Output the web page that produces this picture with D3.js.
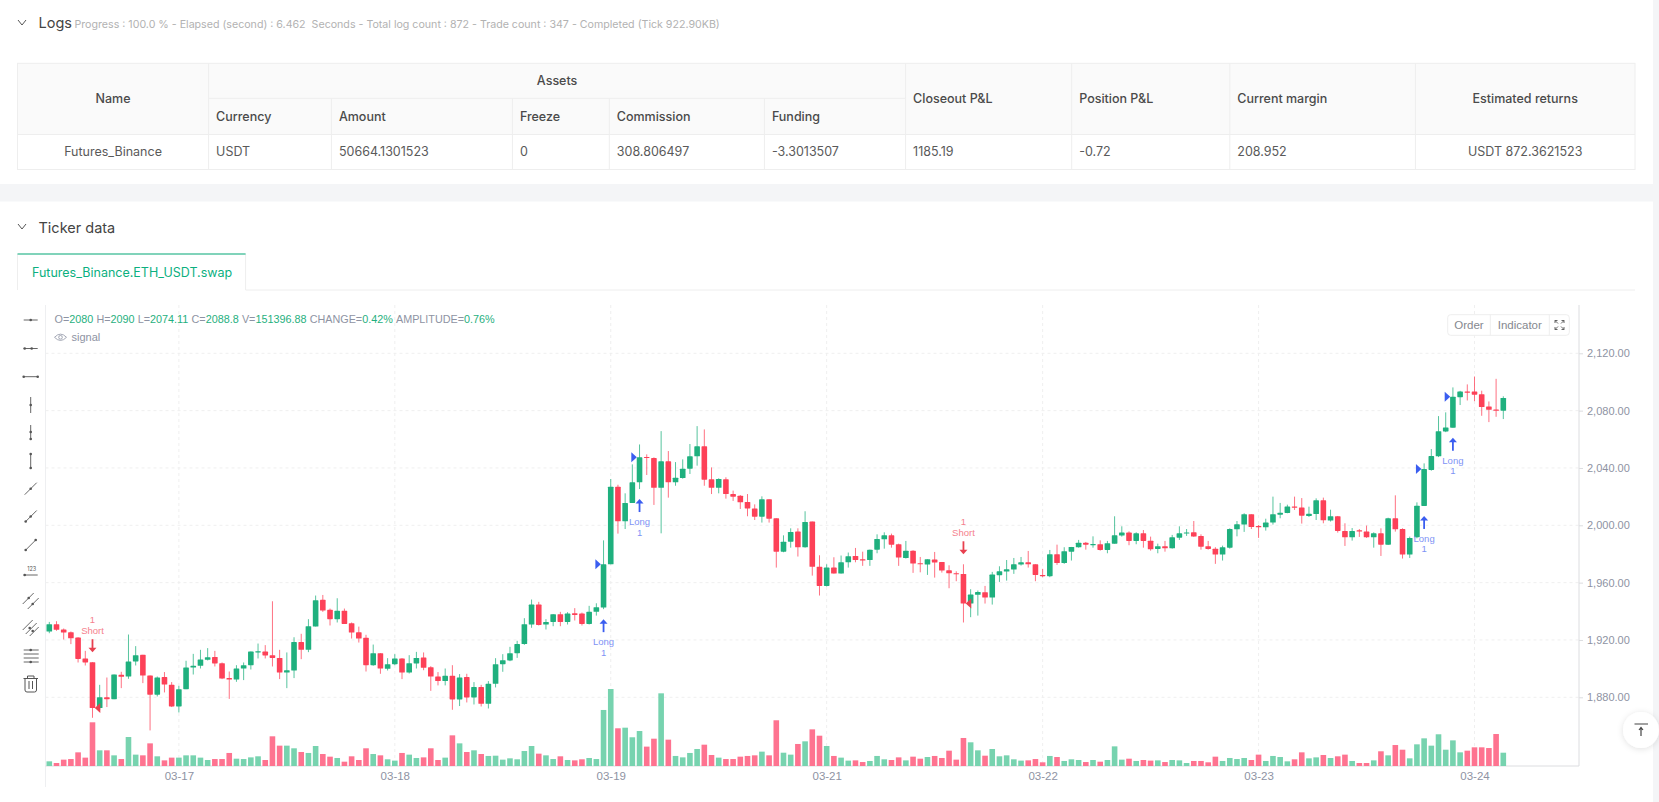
<!DOCTYPE html>
<html lang="en">

<head>
    <meta charset="UTF-8">
    <title>Futures_Binance.ETH_USDT.swap</title>
    <script src="https://d3js.org/d3.v7.min.js"></script>
    <style>
        html, body { margin: 0; padding: 0; background: #fff; overflow: hidden; }
        svg { display: block; font-family: Inter, "Noto Sans", sans-serif; }
        .chart-font { font-family: "Liberation Sans", Arial, sans-serif; }
    </style>
</head>

<body>
    <script>
        // Candle data, one entry per bar
        var opens = [
            1925.9,1931.0,1927.3,1925.4,1921.7,1907.1,1904.5,1872.5,1880.1,1878.7,
            1895.7,1894.5,1905.0,1909.6,1895.2,1881.8,1894.1,1888.7,1873.6,1885.7,
            1900.8,1902.0,1906.2,1908.2,1903.8,1893.4,1892.4,1900.1,1902.4,1911.3,
            1911.9,1909.4,1907.5,1897.3,1898.7,1918.5,1913.1,1929.4,1948.0,1941.0,
            1934.5,1940.3,1931.7,1925.4,1921.5,1902.4,1910.8,1899.9,1903.1,1907.1,
            1897.3,1903.6,1907.8,1901.0,1894.5,1891.3,1895.0,1878.5,1894.1,1879.9,
            1887.1,1875.5,1889.4,1903.1,1905.7,1910.8,1917.1,1930.8,1944.7,1930.8,
            1932.6,1938.0,1932.6,1938.7,1938.4,1931.2,1939.6,1942.6,1972.8,2026.9,
            2002.8,2015.6,2030.0,2047.6,2046.9,2026.2,2044.6,2030.0,2033.0,2039.5,
            2048.1,2055.1,2032.1,2026.2,2032.1,2021.8,2020.7,2016.3,2011.8,2006.0,
            2018.1,2004.9,1981.6,1988.6,1995.6,1984.7,2002.6,1971.0,1957.7,1970.5,
            1966.3,1974.2,1978.6,1976.3,1975.8,1983.0,1990.2,1993.0,1986.8,1977.2,
            1982.3,1973.5,1972.6,1976.1,1974.4,1968.6,1966.5,1966.1,1945.4,1951.5,
            1953.3,1949.6,1965.2,1967.7,1969.1,1972.6,1974.2,1972.8,1965.4,1964.5,
            1979.8,1973.7,1981.6,1984.7,1987.9,1986.1,1986.8,1982.8,1987.2,1992.8,
            1994.9,1989.1,1994.4,1989.3,1983.5,1985.4,1984.0,1991.4,1994.2,1995.1,
            1992.6,1985.4,1983.7,1979.6,1984.4,1997.2,2000.5,2007.7,1999.5,1998.6,
            2001.9,2007.4,2008.6,2013.2,2012.5,2006.5,2007.9,2017.4,2003.3,2006.3,
            1996.1,1991.6,1996.5,1995.6,1991.6,1994.4,1986.5,2004.9,1997.4,1979.6,
            1991.6,2013.5,2038.6,2048.1,2065.5,2068.1,2089.4,2093.4,2093.4,2091.5,
            2082.9,2080.8,2080
        ];
        var closes = [
            1931.0,1927.1,1925.2,1921.2,1906.8,1904.3,1872.5,1880.1,1878.7,1895.9,
            1894.3,1905.0,1909.4,1895.2,1881.8,1893.8,1888.9,1873.6,1885.7,1900.8,
            1902.0,1906.4,1908.0,1903.6,1893.1,1892.4,1900.1,1902.4,1911.9,1912.2,
            1909.2,1907.5,1897.3,1898.9,1918.5,1913.1,1929.6,1947.7,1940.5,1934.5,
            1940.3,1931.2,1925.2,1921.0,1902.4,1910.8,1900.1,1903.1,1907.1,1897.3,
            1903.8,1907.5,1900.6,1894.5,1891.3,1895.0,1878.5,1893.8,1879.9,1887.1,
            1875.5,1889.4,1903.1,1905.9,1910.8,1917.1,1931.0,1944.7,1930.5,1932.6,
            1938.0,1932.6,1938.4,1937.5,1931.2,1939.6,1942.9,1972.8,2026.9,2002.8,
            2015.6,2030.0,2047.4,2046.9,2026.2,2044.6,2030.0,2033.2,2039.5,2048.1,
            2055.1,2031.8,2026.2,2032.3,2021.8,2020.0,2016.0,2011.8,2006.0,2018.1,
            2004.6,1981.6,1988.6,1995.4,1984.7,2002.3,1971.0,1957.7,1970.5,1966.3,
            1974.2,1978.4,1975.8,1975.4,1983.0,1990.5,1993.0,1986.5,1977.5,1982.3,
            1973.3,1972.8,1976.3,1974.0,1968.4,1966.5,1965.9,1945.4,1951.7,1953.5,
            1949.6,1965.6,1967.9,1969.3,1972.8,1974.2,1972.8,1965.4,1964.5,1979.8,
            1973.7,1981.9,1984.9,1987.9,1986.5,1987.0,1982.8,1987.5,1993.0,1994.9,
            1989.1,1994.4,1989.1,1983.3,1985.4,1984.0,1991.6,1994.4,1994.9,1992.1,
            1985.1,1983.5,1979.6,1984.7,1997.4,2000.7,2007.7,1998.8,1998.6,2001.9,
            2007.7,2008.8,2013.2,2012.3,2006.7,2008.1,2017.4,2003.5,2006.3,1996.1,
            1991.6,1996.1,1995.6,1991.6,1994.4,1986.5,2004.9,1997.2,1979.6,1991.2,
            2013.7,2039.3,2048.3,2065.7,2068.3,2089.7,2093.4,2092.5,2091.1,2082.5,
            2080.6,2079.9,2088.8
        ];
        var highs = [
            1932.6,1933.1,1928.0,1925.9,1921.9,1912.4,1904.5,1888.7,1893.8,1895.9,
            1897.8,1923.8,1915.7,1909.6,1895.2,1894.5,1897.6,1890.6,1888.0,1905.5,
            1910.3,1913.1,1914.3,1912.4,1904.3,1898.0,1902.4,1904.3,1911.9,1917.5,
            1916.4,1947.0,1913.1,1911.3,1921.9,1924.3,1934.5,1951.0,1951.4,1941.9,
            1949.1,1941.9,1932.2,1929.3,1923.6,1916.8,1910.8,1907.3,1910.1,1907.3,
            1909.4,1911.7,1911.3,1901.7,1897.6,1900.1,1902.4,1896.2,1896.4,1890.6,
            1888.7,1891.3,1907.3,1910.1,1915.2,1919.4,1935.2,1948.2,1946.6,1934.5,
            1938.0,1939.6,1939.4,1942.2,1939.1,1943.8,1945.6,1989.5,2032.3,2028.3,
            2022.3,2042.5,2056.4,2049.5,2047.4,2065.7,2051.8,2044.1,2046.0,2056.7,
            2069.2,2066.9,2040.4,2032.8,2033.5,2024.2,2021.1,2021.8,2014.6,2020.2,
            2018.1,2004.9,1993.0,1997.9,1997.9,2009.8,2002.6,1979.1,1972.8,1977.7,
            1978.9,1981.0,1984.2,1981.6,1983.0,1993.7,1995.1,1994.2,1987.2,1989.1,
            1982.6,1977.9,1976.3,1981.4,1974.4,1972.1,1967.9,1972.8,1955.4,1954.5,
            1957.7,1967.5,1971.4,1975.8,1977.2,1977.9,1982.1,1972.8,1969.6,1982.8,
            1986.5,1984.7,1984.9,1989.8,1988.4,1992.3,1989.5,1989.1,2006.3,1999.3,
            1995.8,1995.1,1996.7,1992.1,1987.2,1989.1,1993.3,1999.3,1997.4,2003.0,
            1993.7,1989.1,1984.7,1985.8,1997.9,2003.0,2008.4,2007.7,2000.2,2004.6,
            2020.0,2015.6,2014.4,2020.0,2019.0,2013.0,2018.8,2019.3,2010.9,2006.5,
            2001.4,1998.1,1997.4,1999.8,1995.1,1997.9,2005.3,2020.9,1997.9,1992.1,
            2016.0,2043.2,2053.2,2076.2,2078.8,2096.2,2093.8,2098.3,2103.8,2093.9,
            2086.4,2102.2,2090
        ];
        var lows = [
            1924.7,1926.4,1920.3,1917.1,1904.3,1902.2,1865.7,1871.3,1873.2,1878.7,
            1886.4,1892.9,1902.2,1889.9,1856.9,1880.6,1883.4,1873.2,1869.4,1885.7,
            1895.9,1900.1,1905.7,1901.5,1892.7,1878.9,1890.8,1892.0,1899.4,1907.1,
            1907.1,1901.5,1892.7,1886.4,1893.4,1906.6,1911.5,1929.4,1939.6,1930.1,
            1932.2,1931.2,1921.0,1918.2,1898.0,1902.0,1896.4,1898.7,1902.4,1892.7,
            1896.6,1900.1,1898.9,1884.5,1888.3,1888.3,1871.3,1873.9,1876.4,1875.0,
            1873.6,1872.2,1886.9,1897.8,1905.2,1907.5,1916.6,1928.5,1930.1,1927.3,
            1929.6,1929.6,1930.8,1933.6,1930.1,1930.8,1937.0,1941.5,1972.8,1994.2,
            1997.4,2015.6,2025.3,2035.1,2014.2,1994.4,2019.3,2027.6,2032.5,2035.8,
            2041.6,2027.6,2021.8,2022.3,2018.6,2017.0,2011.4,2006.3,2003.7,2001.9,
            2001.9,1970.5,1981.2,1984.4,1978.2,1984.4,1964.9,1951.0,1957.3,1966.3,
            1966.3,1970.5,1974.2,1971.7,1971.7,1980.5,1983.7,1984.4,1971.7,1976.8,
            1966.8,1967.2,1965.4,1963.5,1967.0,1956.1,1961.0,1932.2,1935.9,1937.0,
            1945.4,1944.7,1960.5,1961.4,1966.1,1971.9,1970.5,1961.0,1963.8,1963.8,
            1972.4,1973.1,1975.4,1984.4,1983.0,1984.4,1982.3,1980.5,1987.2,1992.1,
            1986.1,1986.8,1984.4,1982.3,1980.5,1981.6,1983.7,1989.8,1992.6,1991.9,
            1983.0,1983.0,1973.1,1975.4,1983.7,1992.3,1995.4,1997.4,1991.2,1996.3,
            2000.5,2004.9,2008.4,2010.7,2001.2,2005.8,2003.7,2001.4,2002.6,1994.9,
            1985.6,1989.3,1991.9,1991.2,1984.4,1978.6,1986.3,1995.6,1976.8,1977.2,
            1990.9,2013.5,2038.1,2047.6,2065.0,2068.1,2083.9,2087.1,2086.6,2076.4,
            2072.0,2075.7,2074.11
        ];
        // Volume in thousands
        var volumes = [
            53,34,72,79,155,95,496,178,178,121,
            79,329,129,121,257,110,64,95,95,121,
            121,95,68,79,79,148,83,79,98,110,
            68,337,231,231,201,159,148,227,136,106,
            91,49,110,68,201,136,121,76,61,148,
            129,91,98,201,68,95,348,257,159,178,
            136,114,117,72,87,76,170,227,140,121,
            79,110,68,64,76,91,79,636,874,428,
            435,326,397,220,310,825,299,114,98,148,
            193,242,125,95,79,79,106,114,121,163,
            121,519,151,129,250,280,416,344,227,114,
            95,61,64,45,57,114,76,68,98,64,
            106,83,102,114,91,174,72,318,269,178,
            117,193,110,121,76,61,64,79,42,114,
            102,57,76,68,45,68,49,68,223,72,
            83,57,68,61,64,45,68,64,34,57,
            57,42,106,57,91,79,91,68,129,57,
            114,102,53,76,155,87,98,125,91,110,
            129,57,34,34,64,167,121,238,185,87,
            246,314,231,360,185,291,155,174,212,212,
            204,363,151
        ];

        // Axis ticks
        var priceTicks = [1880, 1920, 1960, 2000, 2040, 2080, 2120];
        var dateTickBars = [18, 48, 78, 108, 138, 168, 198];
        var dateLabels = ["03-17", "03-18", "03-19", "03-21", "03-22", "03-23", "03-24"];

        // Trade signals, as bar numbers
        var longBars = [77, 82, 191, 195];
        var shortBars = [6, 127];

        // Strategy table
        var assetHeaders = ["Currency", "Amount", "Freeze", "Commission", "Funding"];
        var sideHeaders = ["Closeout P&L", "Position P&L", "Current margin", "Estimated returns"];
        var rowValues = ["Futures_Binance", "USDT", "50664.1301523", "0", "308.806497", "-3.3013507", "1185.19", "-0.72", "208.952", "USDT 872.3621523"];
        var legendItems = [["O=", "2080"], ["H=", "2090"], ["L=", "2074.11"], ["C=", "2088.8"], ["V=", "151396.88"], ["CHANGE=", "0.42%"], ["AMPLITUDE=", "0.76%"]];

        var width = 1659, height = 802;
        var upColor = "#1fb07e", downColor = "#fd4158";
        var upVol = "#77d3af", downVol = "#fe7390";
        var gridColor = "#efefef", axisColor = "#dcdde0", tickText = "#8e93a3";

        var svg = d3.select("body").append("svg").attr("width", width).attr("height", height);

        function label(parent, x, y, text, size, color, anchor, weight) {
            return parent.append("text")
                .attr("x", x).attr("y", y).attr("dy", "0.35em")
                .attr("font-size", size).attr("fill", color)
                .attr("text-anchor", anchor || "start")
                .attr("font-weight", weight || 400)
                .text(text);
        }

        // ----- Page background -----
        svg.append("rect").attr("x", 0).attr("y", 184).attr("width", width).attr("height", 17.5).attr("fill", "#f4f5f7");
        svg.append("rect").attr("x", 1653).attr("y", 0).attr("width", 6).attr("height", height).attr("fill", "#f4f5f7");

        // ----- Section titles -----
        function chevron(y) {
            svg.append("path").attr("d", "M18 " + (y - 3) + "L22 " + (y + 2) + "L26 " + (y - 3))
                .attr("fill", "none").attr("stroke", "#555").attr("stroke-width", 1);
        }
        chevron(23);
        chevron(227);
        label(svg, 38.5, 23, "Logs", 14.5, "#444");
        label(svg, 74.5, 24.5, "Progress : 100.0 % - Elapsed (second) : 6.462  Seconds - Total log count : 872 - Trade count : 347 - Completed (Tick 922.90KB)", 10.65, "#b2b2b2")
            .attr("xml:space", "preserve");
        label(svg, 38.5, 228, "Ticker data", 14.5, "#444");

        // ----- Table -----
        var colEdges = [17.5, 208.6, 331.4, 512.4, 609.3, 764.4, 905.6, 1071.7, 1229.8, 1415.4, 1635];
        var rowEdges = [63.3, 98.3, 134.5, 169.5];
        var table = svg.append("g");
        var lineColor = "#eeeeee", headText = "#4a4a4a", cellText = "#5a5a5a";

        table.append("rect").attr("x", colEdges[0]).attr("y", rowEdges[0])
            .attr("width", colEdges[10] - colEdges[0]).attr("height", rowEdges[2] - rowEdges[0])
            .attr("fill", "#fafafa");
        table.append("rect").attr("x", colEdges[0]).attr("y", rowEdges[0])
            .attr("width", colEdges[10] - colEdges[0]).attr("height", rowEdges[3] - rowEdges[0])
            .attr("fill", "none").attr("stroke", lineColor);
        table.selectAll("line.col").data(colEdges.slice(1, 10)).enter().append("line")
            .attr("x1", d => d).attr("x2", d => d)
            .attr("y1", (d, i) => (i >= 1 && i <= 4) ? rowEdges[1] : rowEdges[0])
            .attr("y2", rowEdges[3]).attr("stroke", lineColor);
        table.append("line").attr("x1", colEdges[1]).attr("x2", colEdges[6]).attr("y1", rowEdges[1]).attr("y2", rowEdges[1]).attr("stroke", lineColor);
        table.append("line").attr("x1", colEdges[0]).attr("x2", colEdges[10]).attr("y1", rowEdges[2]).attr("y2", rowEdges[2]).attr("stroke", lineColor);

        label(table, (colEdges[0] + colEdges[1]) / 2, 98.7, "Name", 12.5, headText, "middle", 500);
        label(table, (colEdges[1] + colEdges[6]) / 2, 80.7, "Assets", 12.5, headText, "middle", 500);
        assetHeaders.forEach((h, i) => label(table, colEdges[i + 1] + 7.5, 116.7, h, 12.5, headText, "start", 500));
        sideHeaders.forEach((h, i) => {
            if (i < 3) label(table, colEdges[i + 6] + 7.5, 98.7, h, 12.5, headText, "start", 500);
            else label(table, (colEdges[9] + colEdges[10]) / 2, 98.7, h, 12.5, headText, "middle", 500);
        });
        rowValues.forEach((v, i) => {
            if (i === 0 || i === 9) label(table, (colEdges[i] + colEdges[i + 1]) / 2, 152, v, 12.5, cellText, "middle");
            else label(table, colEdges[i] + 7.5, 152, v, 12.5, cellText);
        });

        // ----- Tab -----
        svg.append("path").attr("d", "M17.5 290V254H245.6V290").attr("fill", "none").attr("stroke", "#eeeeee");
        svg.append("line").attr("x1", 245.6).attr("x2", 1635).attr("y1", 290).attr("y2", 290).attr("stroke", "#eeeeee");
        svg.append("line").attr("x1", 17.5).attr("x2", 245.6).attr("y1", 254).attr("y2", 254).attr("stroke", "#0bb07f").attr("stroke-width", 1.2);
        label(svg, 32, 272.7, "Futures_Binance.ETH_USDT.swap", 12.5, "#0bb07f");

        // ----- Scales -----
        var plotLeft = 45.5, plotRight = 1579, plotTop = 305, volBase = 766;
        var x = d3.scaleLinear().domain([0, closes.length - 1]).range([49.3, 1503.3]);
        var y = d3.scaleLinear().domain([1880, 2120]).range([697.3, 353.3]);
        var yVol = d3.scaleLinear().domain([0, d3.max(volumes)]).range([volBase, 689]);
        var bars = d3.range(closes.length);
        var isUp = i => closes[i] >= opens[i];
        var bodyWidth = 5.6;

        // ----- Grid -----
        var grid = svg.append("g").attr("stroke", gridColor).attr("stroke-dasharray", "3 3");
        grid.selectAll("line.h").data(priceTicks).enter().append("line")
            .attr("x1", plotLeft).attr("x2", plotRight)
            .attr("y1", d => y(d)).attr("y2", d => y(d));
        grid.selectAll("line.v").data(dateTickBars).enter().append("line")
            .attr("x1", d => x(d)).attr("x2", d => x(d))
            .attr("y1", plotTop).attr("y2", volBase);

        // ----- Axes -----
        svg.append("line").attr("x1", plotLeft).attr("x2", plotLeft).attr("y1", plotTop).attr("y2", 787).attr("stroke", "#eeeff1");
        svg.append("line").attr("x1", plotRight).attr("x2", plotRight).attr("y1", plotTop).attr("y2", volBase).attr("stroke", axisColor);
        svg.append("line").attr("x1", plotLeft).attr("x2", plotRight).attr("y1", volBase).attr("y2", volBase).attr("stroke", axisColor);

        var yAxis = svg.append("g").attr("transform", "translate(" + plotRight + ",0)")
            .call(d3.axisRight(y).tickValues(priceTicks).tickSize(4).tickPadding(4).tickFormat(d3.format(",.2f")));
        var xAxis = svg.append("g").attr("transform", "translate(0," + volBase + ")")
            .call(d3.axisBottom(x).tickValues(dateTickBars).tickSize(0).tickPadding(6).tickFormat((d, i) => dateLabels[i]));
        [yAxis, xAxis].forEach(a => {
            a.select(".domain").remove();
            a.selectAll("line").attr("stroke", axisColor);
            a.selectAll("text").attr("fill", tickText).attr("font-family", "Liberation Sans");
        });
        yAxis.selectAll("text").attr("font-size", 11);
        xAxis.selectAll("text").attr("font-size", 11.5);

        // ----- Volume -----
        svg.append("g").selectAll("rect").data(bars).enter().append("rect")
            .attr("x", i => x(i) - bodyWidth / 2)
            .attr("width", bodyWidth)
            .attr("y", i => yVol(volumes[i]))
            .attr("height", i => volBase - yVol(volumes[i]))
            .attr("fill", i => isUp(i) ? upVol : downVol);

        // ----- Candles -----
        var candles = svg.append("g");
        candles.selectAll("line").data(bars).enter().append("line")
            .attr("x1", i => x(i)).attr("x2", i => x(i))
            .attr("y1", i => y(highs[i])).attr("y2", i => y(lows[i]))
            .attr("stroke", i => isUp(i) ? upColor : downColor)
            .attr("stroke-opacity", 0.75)
            .attr("stroke-width", 1);
        candles.selectAll("rect").data(bars).enter().append("rect")
            .attr("x", i => x(i) - bodyWidth / 2)
            .attr("width", bodyWidth)
            .attr("y", i => y(Math.max(opens[i], closes[i])))
            .attr("height", i => Math.max(1, Math.abs(y(opens[i]) - y(closes[i]))))
            .attr("rx", 0.6)
            .attr("fill", i => isUp(i) ? upColor : downColor);

        // ----- Signals -----
        var signals = svg.append("g").attr("class", "chart-font");
        var longColor = "#3a5df0", longText = "#7f93f5", shortColor = "#e8404f", shortText = "#f5818e";

        longBars.forEach(i => {
            var px = x(i), py = y(closes[i]), top = y(lows[i]) + 10;
            signals.append("path").attr("d", "M" + (px - 8.2) + " " + (py - 5) + "L" + (px - 2.7) + " " + py + "L" + (px - 8.2) + " " + (py + 5) + "Z").attr("fill", longColor);
            signals.append("path").attr("d", "M" + px + " " + (top + 13) + "V" + (top + 3)).attr("stroke", longColor).attr("stroke-width", 1.8);
            signals.append("path").attr("d", "M" + (px - 4) + " " + (top + 4.5) + "L" + px + " " + top + "L" + (px + 4) + " " + (top + 4.5) + "Z").attr("fill", longColor);
            label(signals, px, top + 22.5, "Long", 9.5, longText, "middle");
            label(signals, px, top + 33.2, "1", 9.5, longText, "middle");
        });
        shortBars.forEach(i => {
            var px = x(i), py = y(closes[i]), tip = y(highs[i]) - 10;
            signals.append("path").attr("d", "M" + (px + 7.8) + " " + (py - 5) + "L" + (px + 2.3) + " " + py + "L" + (px + 7.8) + " " + (py + 5) + "Z").attr("fill", shortColor);
            signals.append("path").attr("d", "M" + px + " " + (tip - 13) + "V" + (tip - 3)).attr("stroke", shortColor).attr("stroke-width", 1.8);
            signals.append("path").attr("d", "M" + (px - 4) + " " + (tip - 4.5) + "L" + px + " " + tip + "L" + (px + 4) + " " + (tip - 4.5) + "Z").attr("fill", shortColor);
            label(signals, px, tip - 22, "Short", 9.5, shortText, "middle");
            label(signals, px, tip - 33, "1", 9.5, shortText, "middle");
        });

        // ----- Legend -----
        var legendGroup = svg.append("g").attr("class", "chart-font");
        var legend = legendGroup.append("text").attr("x", 54.5).attr("y", 319).attr("dy", "0.35em").attr("font-size", 10.8);
        legendItems.forEach((d, i) => {
            legend.append("tspan").attr("fill", tickText).attr("dx", i ? 3.2 : 0).text(d[0]);
            legend.append("tspan").attr("fill", upColor).text(d[1]);
        });
        svg.append("path").attr("d", "M54.5 337.3Q60.5 331 66.5 337.3Q60.5 343.6 54.5 337.3Z").attr("fill", "none").attr("stroke", tickText).attr("stroke-width", 0.8);
        svg.append("circle").attr("cx", 60.5).attr("cy", 337.3).attr("r", 1.8).attr("fill", "none").attr("stroke", tickText).attr("stroke-width", 0.8);
        label(legendGroup, 71.5, 337.5, "signal", 11, tickText);

        // ----- Order / Indicator buttons -----
        svg.append("rect").attr("x", 1447.7).attr("y", 314.7).attr("width", 121.6).attr("height", 20.6).attr("rx", 3)
            .attr("fill", "#fff").attr("stroke", "#eeeeee");
        [1490.3, 1549.3].forEach(d => svg.append("line").attr("x1", d).attr("x2", d).attr("y1", 314.7).attr("y2", 335.3).attr("stroke", "#eeeeee"));
        var buttons = svg.append("g").attr("class", "chart-font");
        label(buttons, 1469, 324.6, "Order", 11.5, "#85888f", "middle");
        label(buttons, 1519.8, 324.6, "Indicator", 11.5, "#85888f", "middle");
        svg.append("path").attr("d", "M1555 320.5L1558 323.5M1555 320.5H1557.5M1555 320.5V323M1564 320.5L1561 323.5M1564 320.5H1561.5M1564 320.5V323M1555 329.5L1558 326.5M1555 329.5H1557.5M1555 329.5V327M1564 329.5L1561 326.5M1564 329.5H1561.5M1564 329.5V327")
            .attr("fill", "none").attr("stroke", "#555").attr("stroke-width", 0.9);

        // ----- Drawing tools column -----
        var toolX = 30.7;
        var toolY = [320, 348.5, 376.7, 405, 433, 461, 488.7, 516.5, 545, 572, 601, 628, 656, 684];
        // Each tool: [line segments], [dots], in pixels from the icon centre
        var tools = [
            [[[-7, 0, 7, 0]], [[0, 0]]],
            [[[-7, 0, 7, 0]], [[-6, 0], [1, 0]]],
            [[[-7, 0, 7, 0]], [[-7, 0], [7, 0]]],
            [[[0, -8, 0, 8]], [[0, 0]]],
            [[[0, -8, 0, 7]], [[0, -1], [0, 6]]],
            [[[0, -7, 0, 7]], [[0, -7], [0, 7]]],
            [[[-6, 6, 6, -6]], [[0, 0]]],
            [[[-5, 5, 6, -6]], [[-5, 5], [0, 0]]],
            [[[-5, 5, 5, -5]], [[-5, 5], [5, -5]]],
            [[[-7, 3, 7, 3]], [[-6, 3]]],
            [[[-8, 3, 3, -8], [-3, 8, 8, -3]], [[-2, -3], [2, 3]]],
            [[[-8, 2, 2, -8], [-5, 6, 6, -5], [-1, 8, 8, -1]], [[-1, 0], [2, 3]]],
            [[[-7, -6, 8, -6], [-7, -2, 8, -2], [-7, 2, 8, 2], [-7, 6, 8, 6]], [[0, -6], [0, 6]]]
        ];
        var toolbar = svg.append("g").attr("stroke", "#555").attr("fill", "#555");
        tools.forEach((t, n) => {
            var g = toolbar.append("g").attr("transform", "translate(" + toolX + "," + toolY[n] + ")");
            t[0].forEach(s => g.append("line").attr("x1", s[0]).attr("y1", s[1]).attr("x2", s[2]).attr("y2", s[3]).attr("stroke-width", 0.9));
            t[1].forEach(p => g.append("circle").attr("cx", p[0]).attr("cy", p[1]).attr("r", 1.3).attr("stroke", "none"));
        });
        label(svg, toolX + 1, 569, "123", 5.5, "#555", "middle");
        svg.append("path")
            .attr("d", "M23.5 678.5H38M27.5 678.5V676H34V678.5M25 679V690Q25 692 27 692H34.5Q36.5 692 36.5 690V679M29 681V689M32.5 681V689")
            .attr("fill", "none").attr("stroke", "#555").attr("stroke-width", 1);

        // ----- Back to top button -----
        var shadow = svg.append("defs").append("filter").attr("id", "soft").attr("x", "-50%").attr("y", "-50%").attr("width", "200%").attr("height", "200%");
        shadow.append("feDropShadow").attr("dx", 0).attr("dy", 1).attr("stdDeviation", 3).attr("flood-color", "#000").attr("flood-opacity", 0.12);
        svg.append("circle").attr("cx", 1641).attr("cy", 730).attr("r", 18).attr("fill", "#fff").attr("filter", "url(#soft)");
        svg.append("path").attr("d", "M1634.5 724H1648M1641 736V727.5M1639 730L1641 727.5L1643 730")
            .attr("fill", "none").attr("stroke", "#444").attr("stroke-width", 1.2);
    </script>
</body>

</html>
